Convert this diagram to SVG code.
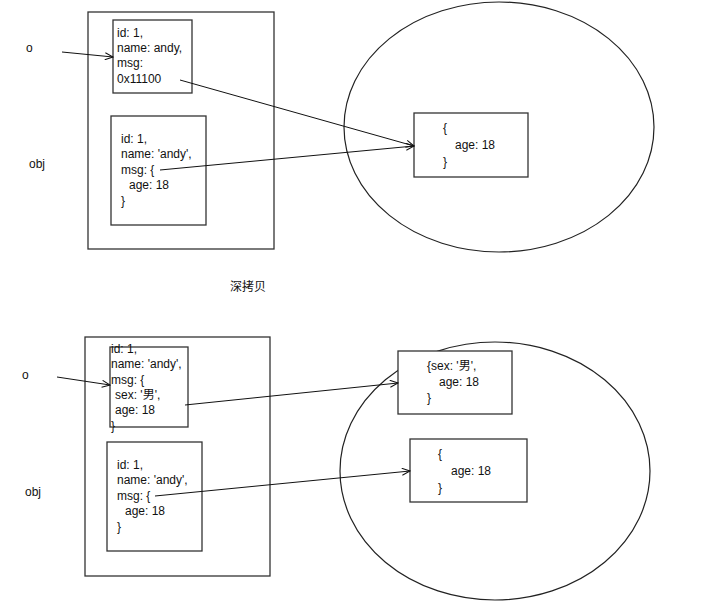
<svg xmlns="http://www.w3.org/2000/svg" width="712" height="603" viewBox="0 0 712 603">
<style>
.b{fill:#fff;stroke:#333;stroke-width:1.3}
.e{fill:#fff;stroke:#222;stroke-width:1.2}
text{font-family:"Liberation Sans","Noto Sans CJK SC",sans-serif;font-size:12px;fill:#111}
.c{stroke:#111;stroke-width:1;fill:none;marker-end:url(#a)}
</style>
<defs><marker id="a" markerWidth="10" markerHeight="8" refX="9" refY="4" orient="auto" markerUnits="userSpaceOnUse"><path d="M1,0.5 L9,4 L1,7.5" fill="none" stroke="#111" stroke-width="1"/></marker></defs>
<rect width="712" height="603" fill="#fff"/>
<text x="26" y="52">o</text>
<text x="29" y="168">obj</text>
<g id="top-stack"><rect class="b" x="88" y="12" width="186" height="237"/></g>
<g id="top-ellipse"><ellipse class="e" cx="499" cy="127" rx="155" ry="125"/></g>
<g id="top-o"><rect class="b" x="113" y="20" width="79" height="73"/>
<text x="117" y="37">id: 1,</text><text x="117" y="52">name: andy,</text><text x="117" y="67">msg:</text><text x="117" y="83">0x11100</text></g>
<g id="top-obj"><rect class="b" x="111" y="116" width="95" height="109"/>
<text x="121" y="143">id: 1,</text><text x="121" y="158">name: 'andy',</text><text x="121" y="174">msg: {</text><text x="129" y="189">age: 18</text><text x="121" y="205">}</text></g>
<g id="top-heap"><rect class="b" x="414" y="113" width="114" height="64"/>
<text x="443" y="132">{</text><text x="455" y="149">age: 18</text><text x="443" y="166">}</text></g>
<text x="230" y="291">深拷贝</text>
<text x="22" y="379">o</text>
<text x="25" y="496">obj</text>
<g id="bot-stack"><rect class="b" x="85" y="337" width="185" height="239"/></g>
<g id="bot-ellipse"><ellipse class="e" cx="495" cy="471" rx="155" ry="129"/></g>
<g id="bot-o"><rect class="b" x="110" y="347" width="78" height="80"/>
<text x="111" y="353">id: 1,</text><text x="111" y="368">name: 'andy',</text><text x="111" y="384">msg: {</text><text x="115" y="399">sex: '男',</text><text x="115" y="414">age: 18</text><text x="111" y="430">}</text></g>
<g id="bot-obj"><rect class="b" x="107" y="442" width="95" height="109"/>
<text x="117" y="469">id: 1,</text><text x="117" y="484">name: 'andy',</text><text x="117" y="500">msg: {</text><text x="125" y="515">age: 18</text><text x="117" y="531">}</text></g>
<g id="bot-heap1"><rect class="b" x="398" y="351" width="114" height="63"/>
<text x="427" y="370">{sex: '男',</text><text x="439" y="386">age: 18</text><text x="427" y="402">}</text></g>
<g id="bot-heap2"><rect class="b" x="410" y="439" width="117" height="63"/>
<text x="438" y="458">{</text><text x="451" y="475">age: 18</text><text x="438" y="492">}</text></g>
<g id="connectors">
<line class="c" x1="62" y1="52" x2="113" y2="57"/>
<line class="c" x1="180" y1="80" x2="414" y2="146"/>
<line class="c" x1="160" y1="170" x2="414" y2="146"/>
<line class="c" x1="57" y1="377" x2="110" y2="385"/>
<line class="c" x1="185" y1="405" x2="398" y2="383"/>
<line class="c" x1="155" y1="496" x2="410" y2="471"/>
</g>
</svg>
